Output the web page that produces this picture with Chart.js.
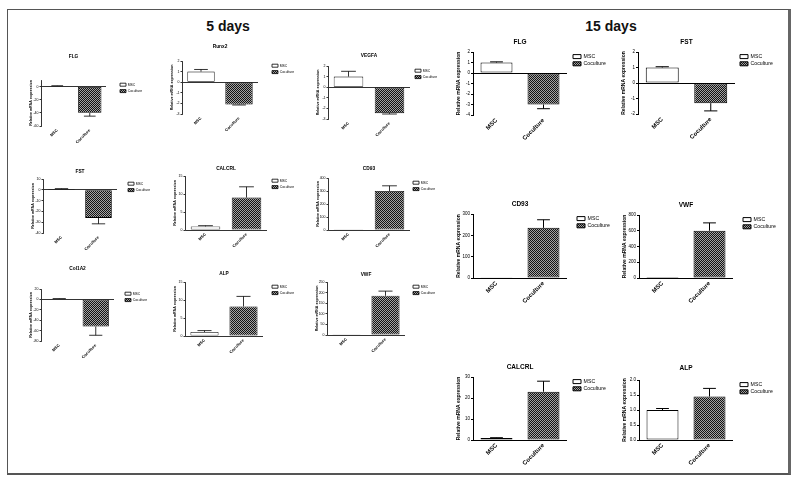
<!DOCTYPE html>
<html>
<head>
<meta charset="utf-8">
<script src="https://cdn.jsdelivr.net/npm/chart.js@4.4.1/dist/chart.umd.min.js"></script>
<style>
  body { margin: 0; background: #fff; width: 800px; height: 486px; position: relative; overflow: hidden; font-family: "Liberation Sans", Arial, sans-serif; }
  #frame { position: absolute; left: 7px; top: 9px; width: 780px; height: 463px; border: 1px solid #555; border-right: 3px solid #666; border-bottom: 2px solid #555; }
  .head { position: absolute; top: 18px; width: 120px; text-align: center; font-weight: bold; font-size: 14px; color: #111; }
  canvas { position: absolute; }
</style>
</head>
<body>
<div id="frame"></div>
<div class="head" style="left:168px">5 days</div>
<div class="head" style="left:551px">15 days</div>
<script>
const groups = ["MSC", "Coculture"];

// 5 days
const genes5 = ["FLG", "Runx2", "VEGFA", "FST", "CALCRL", "CD93", "Col1A2", "ALP", "VWF"];
const msc5 = [1, 1, 1, 0.8, 1, 1, 1, 1.1, 1];
const mscErr5 = [0.3, 0.2, 0.5, 0.3, 0.2, 0, 0.6, 0.4, 0];
const coc5 = [-40, -2.1, -2.45, -26, 9, 300, -52, 8.2, 185];
const cocErr5 = [5, 0.05, 0.08, 5.5, 3, 40, 17, 2.8, 22];
const yMin5 = [-60, -3, -3, -40, 0, 0, -80, 0, 0];
const yMax5 = [10, 2, 2, 10, 15, 400, 20, 15, 250];
const yStep5 = [10, 1, 1, 10, 5, 100, 20, 5, 50];

// 15 days
const genes15 = ["FLG", "FST", "CD93", "VWF", "CALCRL", "ALP"];
const msc15 = [1, 1, 1, 1, 1, 1];
const mscErr15 = [0.06, 0.05, 0, 0, 0.1, 0.05];
const coc15 = [-3, -1.3, 235, 600, 23, 1.45];
const cocErr15 = [0.4, 0.5, 38, 100, 5, 0.27];
const yMin15 = [-4, -2, 0, 0, 0, 0];
const yMax15 = [2, 2, 300, 800, 30, 2];
const yStep15 = [1, 1, 100, 200, 10, 0.5];

// where each plot area sits: left, right, top, bottom, title y, gap before legend
const box5 = [
  [41, 106, 80, 126, 58, 11],
  [182, 258, 61, 114, 48, 11],
  [328, 410, 66, 119, 57, 2],
  [43, 117, 179, 233, 173, 8],
  [185, 267, 176, 230, 170, 2],
  [328, 410, 178, 230, 170, 0],
  [41, 114, 289, 341, 270, 8],
  [185, 263, 282, 336, 275, 6],
  [327, 405, 282, 335, 276, 5],
];
const box15 = [
  [473, 567, 52, 115, 43, 4],
  [638, 735, 52, 114, 43, 3],
  [473, 567, 214, 278, 205, 8],
  [639, 733, 215, 278, 206, 8],
  [473, 567, 377, 440, 368, 4],
  [639, 733, 380, 440, 369, 5],
];

const small = { YW: 12, XH: 17, LW: 26, tick: 3.5, xtick: 4, ytitle: 3.6, title: 4.8, legend: 3.4, boxW: 6, boxH: 3, lpad: 3, bar: 0.72, lw: 0.8, tl: 1.5, cap: 0.25 };
const big = { YW: 17, XH: 25, LW: 38, tick: 4.5, xtick: 6, ytitle: 5, title: 6.5, legend: 5.2, boxW: 8, boxH: 4, lpad: 2, bar: 0.68, lw: 1, tl: 2, cap: 0.2 };

Chart.defaults.font.family = '"Liberation Sans", Arial, sans-serif';
Chart.defaults.color = "#000";

function checker(ctx) {
  const c = document.createElement("canvas");
  c.width = 2;
  c.height = 2;
  const g = c.getContext("2d");
  g.fillStyle = "#a4a4a4";
  g.fillRect(0, 0, 2, 2);
  g.fillStyle = "#141414";
  g.fillRect(0, 0, 1, 1);
  g.fillRect(1, 1, 1, 1);
  return ctx.createPattern(c, "repeat");
}

const errorBars = {
  id: "errorBars",
  afterDatasetsDraw(chart, args, opts) {
    const ctx = chart.ctx;
    const y = chart.scales.y;
    ctx.save();
    ctx.strokeStyle = "#000";
    ctx.lineWidth = opts.lineWidth;
    chart.data.datasets.forEach((ds, i) => {
      chart.getDatasetMeta(i).data.forEach((bar, j) => {
        const v = ds.data[j];
        const e = ds.errors[j];
        if (v == null || !e) return;
        const y0 = y.getPixelForValue(v);
        const y1 = y.getPixelForValue(v < 0 ? v - e : v + e);
        const half = bar.width * opts.cap;
        ctx.beginPath();
        ctx.moveTo(bar.x, y0);
        ctx.lineTo(bar.x, y1);
        ctx.moveTo(bar.x - half, y1);
        ctx.lineTo(bar.x + half, y1);
        ctx.stroke();
      });
    });
    ctx.restore();
  },
};

function fixLegend(w) {
  return {
    id: "fixLegend",
    beforeLayout(chart) {
      const lg = chart.legend;
      if (lg && !lg._fixed) {
        const fit = lg.fit;
        lg.fit = function () {
          fit.call(this);
          this.width = w;
        };
        lg._fixed = true;
      }
    },
  };
}

function makeChart(gene, msc, mscErr, coc, cocErr, yMin, yMax, yStep, box, st) {
  const [L, R, T, B, titleY, gap] = box;
  const left = L - st.YW;
  const top = Math.round(titleY - st.title * 0.6) - 1;
  const width = R + gap + st.LW - left;
  const height = B + st.XH - top;
  const canvas = document.createElement("canvas");
  canvas.width = width;
  canvas.height = height;
  canvas.style.left = left + "px";
  canvas.style.top = top + "px";
  document.body.appendChild(canvas);
  const ctx = canvas.getContext("2d");

  new Chart(ctx, {
    type: "bar",
    data: {
      labels: groups,
      datasets: [
        {
          label: groups[0],
          data: [msc, null],
          errors: [mscErr, 0],
          backgroundColor: "#fff",
          borderColor: "#000",
          borderWidth: st.lw,
          borderSkipped: false,
        },
        {
          label: groups[1],
          data: [null, coc],
          errors: [0, cocErr],
          backgroundColor: checker(ctx),
          borderColor: "#000",
          borderWidth: st.lw,
          borderSkipped: false,
        },
      ],
    },
    options: {
      responsive: false,
      animation: false,
      layout: { padding: 0 },
      datasets: { bar: { grouped: false, barPercentage: st.bar, categoryPercentage: 1 } },
      scales: {
        x: {
          afterFit: (s) => { s.height = st.XH; },
          grid: { display: false, drawTicks: false },
          border: { display: false },
          ticks: { minRotation: 45, maxRotation: 45, padding: 2, font: { size: st.xtick, weight: "bold" } },
        },
        y: {
          min: yMin,
          max: yMax,
          afterFit: (s) => { s.width = st.YW; },
          ticks: {
            stepSize: yStep,
            padding: 1,
            font: { size: st.tick },
            callback: (v) => (yStep < 1 ? v.toFixed(1) : v),
          },
          grid: {
            color: (c) => (c.tick && c.tick.value === 0 ? "#000" : "rgba(0,0,0,0)"),
            tickColor: "#000",
            tickLength: st.tl,
            lineWidth: st.lw,
          },
          border: { display: true, color: "#000", width: st.lw },
          title: {
            display: true,
            text: "Relative mRNA expression",
            padding: 0,
            font: { size: st.ytitle, weight: "bold" },
          },
        },
        y2: {
          type: "linear",
          position: "right",
          afterFit: (s) => { s.width = gap; },
          grid: { display: false, drawTicks: false },
          border: { display: false },
          ticks: { display: false },
        },
      },
      plugins: {
        title: {
          display: true,
          text: gene,
          fullSize: false,
          color: "#000",
          font: { size: st.title, weight: "bold" },
          padding: { top: 0, bottom: T - top - st.title * 1.2 },
        },
        legend: {
          position: "right",
          align: "start",
          fullSize: false,
          labels: { boxWidth: st.boxW, boxHeight: st.boxH, padding: st.lpad, font: { size: st.legend } },
        },
        tooltip: { enabled: false },
        errorBars: { lineWidth: st.lw, cap: st.cap },
      },
    },
    plugins: [errorBars, fixLegend(st.LW)],
  });
}

genes5.forEach((g, i) => {
  makeChart(g, msc5[i], mscErr5[i], coc5[i], cocErr5[i], yMin5[i], yMax5[i], yStep5[i], box5[i], small);
});
genes15.forEach((g, i) => {
  makeChart(g, msc15[i], mscErr15[i], coc15[i], cocErr15[i], yMin15[i], yMax15[i], yStep15[i], box15[i], big);
});
</script>
</body>
</html>
